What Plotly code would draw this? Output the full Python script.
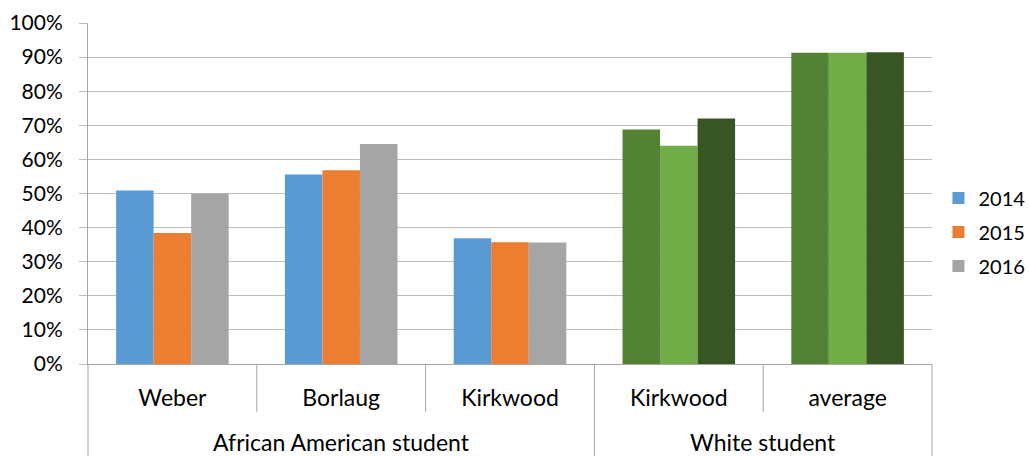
import plotly.graph_objects as go

# ---- data ----
groups = ["African American student", "African American student", "African American student",
          "White student", "White student"]
schools = ["Weber", "Borlaug", "Kirkwood", "Kirkwood", "average"]
years = ["2014", "2015", "2016"]
v2014 = [0.509, 0.556, 0.369, 0.688, 0.913]
v2015 = [0.384, 0.568, 0.357, 0.640, 0.913]
v2016 = [0.500, 0.645, 0.356, 0.720, 0.914]
yticks = [i / 10 for i in range(11)]

series_colors = ["#5B9BD5", "#ED7D31", "#A5A5A5"]
white_colors = ["#548235", "#70AD47", "#375623"]

FONT = "Lato"
TXT = "#000000"
GRID = "#BEBEBE"
AXIS = "#A6A6A6"

x = list(range(len(schools)))
fig = go.Figure()
for k, (yr, vals) in enumerate(zip(years, [v2014, v2015, v2016])):
    cols = [series_colors[k] if g != "White student" else white_colors[k] for g in groups]
    fig.add_trace(go.Bar(x=x, y=vals, name=yr, legendgroup=yr,
                         marker=dict(color=cols, line=dict(width=0))))

# category separators
shapes = []
plot_h = 456 - 23 - 92
inner_depth = 48 / plot_h
outer_depth = 93 / plot_h
for i in range(len(schools) - 1):
    same = groups[i] == groups[i + 1]
    shapes.append(dict(type="line", xref="x", yref="paper", x0=i + 0.5, x1=i + 0.5,
                       y0=0, y1=-(inner_depth if same else outer_depth),
                       line=dict(color=AXIS, width=1)))
for px in [0, 1]:
    shapes.append(dict(type="line", xref="paper", yref="paper", x0=px, x1=px,
                       y0=0, y1=-outer_depth, line=dict(color=AXIS, width=1)))

# outer level labels
annotations = []
seen = []
for g in groups:
    if g not in seen:
        seen.append(g)
for g in seen:
    idx = [i for i, gg in enumerate(groups) if gg == g]
    annotations.append(dict(x=sum(idx) / len(idx), xref="x", y=-(78 / plot_h), yref="paper",
                            text=g, showarrow=False, yanchor="middle",
                            font=dict(family=FONT, size=23, color=TXT)))

fig.update_layout(
    width=1029, height=456,
    margin=dict(l=88, r=97, t=23, b=92, autoexpand=False),
    paper_bgcolor="white", plot_bgcolor="white",
    barmode="group", bargap=0.333, bargroupgap=0,
    font=dict(family=FONT, size=20, color=TXT),
    shapes=shapes, annotations=annotations,
    legend=dict(xref="container", x=0.912, xanchor="left", y=0.387, yanchor="middle",
                font=dict(family=FONT, size=20, color=TXT),
                tracegroupgap=5, traceorder="grouped", bgcolor="rgba(0,0,0,0)"),
    xaxis=dict(range=[-0.5, len(schools) - 0.5], tickvals=x, ticktext=schools,
               showgrid=False, zeroline=False, showline=True, linecolor=AXIS,
               ticks="", ticklabelstandoff=13, automargin=False,
               tickfont=dict(family=FONT, size=23, color=TXT), fixedrange=True),
    yaxis=dict(range=[0, 1], tickvals=yticks, tickformat=".0%", showgrid=True,
               gridcolor=GRID, gridwidth=1, zeroline=False, showline=True, linecolor=AXIS,
               ticks="outside", ticklen=8, tickcolor=GRID, ticklabelstandoff=12,
               automargin=False,
               tickfont=dict(family=FONT, size=21, color=TXT), fixedrange=True),
)

fig.write_html("out.html")
